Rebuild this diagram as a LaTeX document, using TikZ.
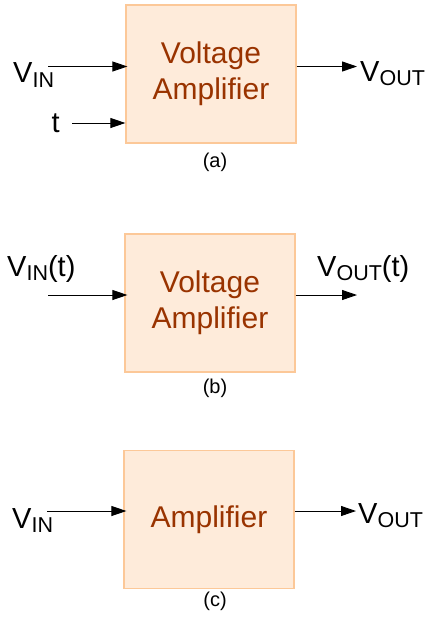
\documentclass[tikz,border=0pt]{standalone}
\usepackage{fontspec}
\setmainfont{Liberation Sans}
\usepackage{tikz}
\usetikzlibrary{arrows.meta,positioning,calc}
\definecolor{boxfill}{RGB}{254,235,218}
\definecolor{boxline}{RGB}{252,200,152}
\definecolor{boxtext}{RGB}{153,51,0}
\newcommand{\lowidx}[1]{\raisebox{-4.5pt}{\fontsize{21.5}{21.5}\selectfont #1}}

\begin{document}
\begin{tikzpicture}[
    x=1pt, y=-1pt,
    block/.style={rectangle, draw=boxline, fill=boxfill, line width=1.2pt,
                  minimum width=170pt, minimum height=138pt,
                  text=boxtext, align=center, font=\fontsize{30}{36}\selectfont},
    sig/.style={anchor=base west, inner sep=0pt, font=\fontsize{29}{29}\selectfont},
    subcap/.style={anchor=base, inner sep=0pt, font=\fontsize{20}{20}\selectfont},
    arr/.style={-{Triangle[length=15pt, width=10pt]}, line width=0.9pt}
]
\useasboundingbox (0,0) rectangle (426,619);

% (a) amplifier with time input
\node[block] (boxa) at (211,74) {Voltage\\Amplifier};
\node[sig] (vina) at (13,82.5) {V\lowidx{IN}};
\node[sig] (ta) at (51.5,132) {t};
\node[sig] (vouta) at (360,81) {V\lowidx{OUT}};
\node[subcap] (capa) at (215,167) {(a)};
\coordinate (ina) at (48,66.5);
\coordinate (tina) at (72,123);
\coordinate (outa) at (357,66.5);
\draw[arr] (ina) -- ($(ina -| boxa.west)+(2,0)$);
\draw[arr] (tina) -- (tina -| boxa.west);
\draw[arr] (outa -| boxa.east) -- (outa);

% (b) time-dependent signals
\node[block] (boxb) at (210,303) {Voltage\\Amplifier};
\node[sig] (vinb) at (7,276) {V\lowidx{IN}(t)};
\node[sig] (voutb) at (317,276) {V\lowidx{OUT}(t)};
\node[subcap] (capb) at (215,393) {(b)};
\coordinate (inb) at (48,295);
\coordinate (outb) at (357,295);
\draw[arr] (inb) -- ($(inb -| boxb.west)+(3,0)$);
\draw[arr] (outb -| boxb.east) -- (outb);

% (c) plain amplifier
\node[block] (boxc) at (209,519.5) {Amplifier};
\node[sig] (vinc) at (12,528) {V\lowidx{IN}};
\node[sig] (voutc) at (358,523) {V\lowidx{OUT}};
\node[subcap] (capc) at (215,606) {(c)};
\coordinate (inc) at (47,511);
\coordinate (outc) at (356,511);
\draw[arr] (inc) -- ($(inc -| boxc.west)+(3,0)$);
\draw[arr] (outc -| boxc.east) -- (outc);

\end{tikzpicture}
\end{document}
